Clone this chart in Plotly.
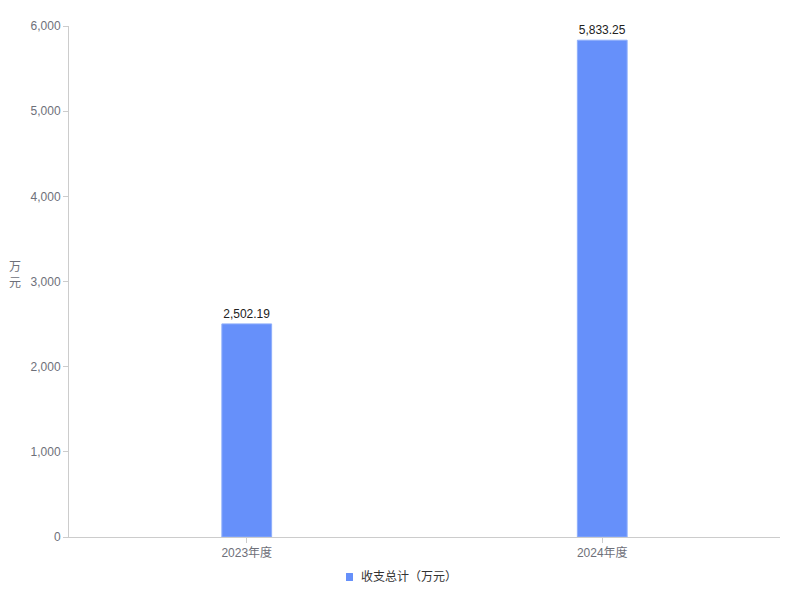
import plotly.graph_objects as go

categories = ['2023年度', '2024年度']
totals = [2502.19, 5833.25]
y_ticks = [0, 1000, 2000, 3000, 4000, 5000, 6000]
series_name = '收支总计（万元）'

FONT = 'Liberation Sans, Arial, Noto Sans CJK SC, sans-serif'
BAR_COLOR = '#6690fa'

fig = go.Figure(go.Bar(
    x=categories,
    y=totals,
    name=series_name,
    width=0.14,
    marker=dict(color=BAR_COLOR, line=dict(color='#8eaefb', width=1)),
    texttemplate='%{y:,.2f}',
    textposition='outside',
    textfont=dict(color='#222', size=12),
    cliponaxis=False,
    showlegend=False
))

fig.update_layout(
    width=800, height=600,
    margin=dict(l=61, r=28, t=18, b=71, autoexpand=False),
    plot_bgcolor='white',
    paper_bgcolor='white',
    font=dict(family=FONT, size=12, color='#6e7079'),
    xaxis=dict(showline=True, linecolor='#ccc', ticks='outside', ticklen=5,
               tickcolor='#ccc', showgrid=False, automargin=False),
    yaxis=dict(range=[0, 6000], tickvals=y_ticks, tickformat=',', showline=True,
               linecolor='#ccc', ticks='outside', ticklen=5, tickcolor='#ccc',
               showgrid=False, zeroline=False, automargin=False),
)

# y axis title, stacked vertically
fig.add_annotation(text='万<br>元', xref='paper', yref='paper', x=-0.076, y=0.513,
                   xanchor='center', yanchor='middle', showarrow=False,
                   font=dict(color='#6e7079', size=12))

# legend drawn by hand: small square + label below the plot
fig.add_shape(type='rect', xref='paper', yref='paper',
              x0=0.3896, x1=0.3994, y0=-0.0705, y1=-0.0861,
              fillcolor=BAR_COLOR, line=dict(width=0))
fig.add_annotation(text=series_name, xref='paper', yref='paper', x=0.408, y=-0.0783,
                   xanchor='left', yanchor='middle', showarrow=False,
                   font=dict(color='#333', size=12))

fig.write_html('out.html')
